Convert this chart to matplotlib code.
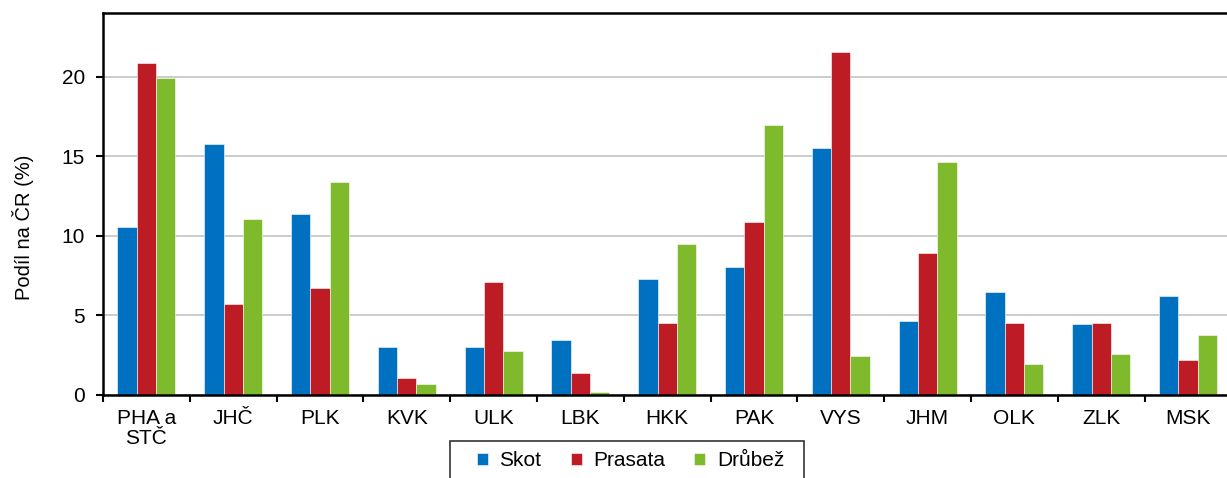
import matplotlib
matplotlib.use("Agg")
import matplotlib.pyplot as plt
from matplotlib.patches import Rectangle
import numpy as np

plt.rcParams['font.family'] = ['Liberation Sans', 'DejaVu Sans']

categories = ["PHA a\nSTČ", "JHČ", "PLK", "KVK", "ULK", "LBK", "HKK", "PAK", "VYS", "JHM", "OLK", "ZLK", "MSK"]
skot    = [10.58, 15.75, 11.35, 3.04, 2.99, 3.46, 7.31, 8.06, 15.52, 4.67, 6.49, 4.46, 6.22]
prasata = [20.84, 5.70, 6.70, 1.09, 7.12, 1.36, 4.54, 10.85, 21.55, 8.92, 4.52, 4.50, 2.22]
drubez  = [19.90, 11.08, 13.40, 0.69, 2.76, 0.21, 9.51, 16.96, 2.43, 14.62, 1.95, 2.60, 3.75]
series_names = ["Skot", "Prasata", "Drůbež"]
colors = ["#0070C0", "#BE1C24", "#7FBA2D"]
yticks = [0, 5, 10, 15, 20]

W, H = 1227, 478
FS = 15
fig = plt.figure(figsize=(W/100, H/100), dpi=100)
ax = fig.add_axes([103/W, 1-395/H, 1128.4/W, (395-13)/H])

x = np.arange(len(categories))
bw = 0.222
handles = []
for k, (vals, c, name) in enumerate(zip([skot, prasata, drubez], colors, series_names)):
    b = ax.bar(x + (k-1)*bw, vals, width=bw, color=c, edgecolor='white', linewidth=0.4,
               label=name, zorder=2)
    handles.append(b)

ax.set_xlim(-0.5, len(categories)-0.5)
ax.set_ylim(0, 24)
ax.set_yticks(yticks)
ax.set_yticklabels([str(v) for v in yticks])
ax.yaxis.grid(True, color='#C8C8C8', linewidth=1.3, zorder=0)
ax.set_axisbelow(True)

ax.set_xticks(np.arange(-0.5, len(categories), 1.0))
ax.set_xticklabels([])
ax.set_xticks(x, minor=True)
ax.set_xticklabels(categories, minor=True, fontsize=FS, linespacing=1.1)
ax.tick_params(axis='x', which='major', direction='out', length=5, width=1.5, color='black')
ax.tick_params(axis='x', which='minor', length=0, pad=10)
ax.tick_params(axis='y', direction='out', length=5, width=1.5, labelsize=FS, pad=8)

for s in ['left', 'bottom', 'top']:
    ax.spines[s].set_linewidth(1.8)
    ax.spines[s].set_color('black')
    ax.spines[s].set_zorder(4)
ax.spines['right'].set_visible(False)

ax.set_ylabel("Podíl na ČR (%)", fontsize=14.5)
ax.yaxis.set_label_coords(-(103-23)/1128.4, (395-227)/382)
ax.yaxis.label.set_va('center')

leg = fig.legend(handles=handles, labels=series_names, loc='center left',
                 bbox_to_anchor=(477/W, 1-461/H), ncol=3, frameon=False, fontsize=FS,
                 handlelength=0.53, handleheight=0.53, handletextpad=0.55,
                 columnspacing=1.4, borderpad=0, borderaxespad=0)
fig.patches.append(Rectangle((450/W, -0.05), (804-450)/W, (1-441/H)+0.05,
                             transform=fig.transFigure, fill=False,
                             edgecolor='#333333', linewidth=1.2))

fig.savefig("out.png", dpi=100)
